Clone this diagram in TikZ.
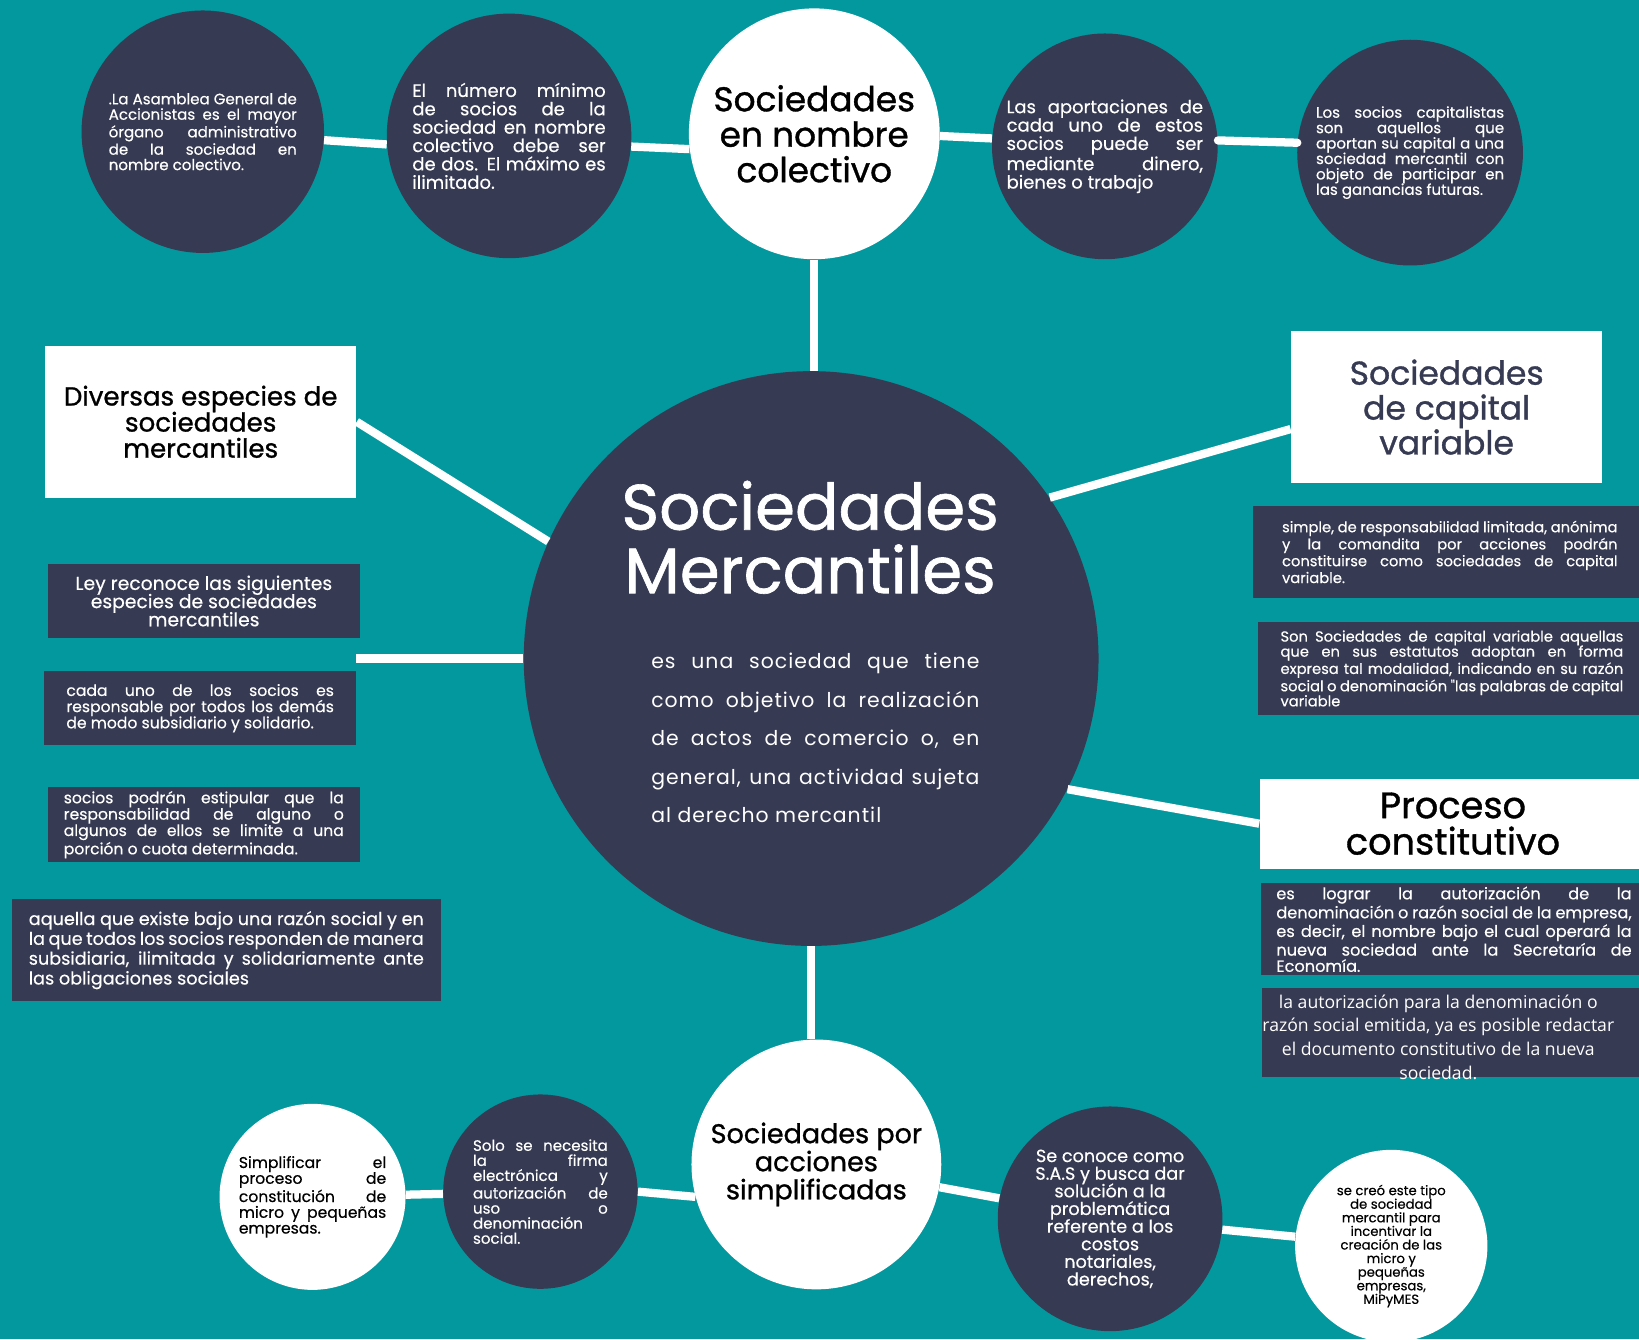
\documentclass[tikz,border=0pt]{standalone}
\usepackage{fontspec}
\setmainfont{Poppins}[FakeBold=0.4]
\newfontfamily\medio[FakeBold=1]{Poppins}
\newfontfamily\espaciada[LetterSpace=5]{Poppins}
\newfontfamily\opensans{Open Sans}
\usetikzlibrary{calc}
\definecolor{fondo}{HTML}{03989E}
\definecolor{marino}{HTML}{363A52}
\hyphenpenalty=10000
\exhyphenpenalty=10000
\tolerance=10000
\lineskiplimit=-\maxdimen

\tikzset{
  burbuja/.style={circle, fill=marino, text=white, inner sep=0pt, minimum size=#1},
  blanca/.style={circle, fill=white, text=black, inner sep=0pt, minimum size=#1},
  caja/.style 2 args={rectangle, fill=marino, text=white, inner sep=0pt, minimum width=#1, minimum height=#2},
  cajablanca/.style 2 args={rectangle, fill=white, text=black, inner sep=0pt, minimum width=#1, minimum height=#2},
  parrafo/.style={align=justify, text width=#1},
  enlace/.style={draw=white, line width=4.5pt}
}

\begin{document}
\begin{tikzpicture}[x=0.02cm, y=-0.02cm]
  % Fondo
  \clip (0,0) rectangle (1568,1281);
  \fill[fondo] (0,0) rectangle (1568,1281);

  % Circulo central
  \node[burbuja=11cm] (mercantil) at (776,630) {};
  \node[text=white, align=center, font=\medio\fontsize{35}{34.6}\selectfont] (titulo) at (775,514) {Sociedades\\Mercantiles};
  \node[parrafo=6.28cm, text=white, font=\espaciada\fontsize{11.1}{21}\selectfont] (definicion) at (780,706)
    {es una sociedad que tiene\linebreak como objetivo la realización\linebreak de actos de comercio o, en\linebreak general, una actividad sujeta\linebreak al derecho mercantil};

  % Fila de arriba
  \node[burbuja=4.64cm, parrafo=3.6cm, font=\fontsize{8.2}{8.4}\selectfont] (asamblea) at (194,126)
    {.La Asamblea General de\linebreak Accionistas es el mayor\linebreak órgano administrativo\linebreak de la sociedad en\linebreak nombre colectivo.};
  \node[burbuja=4.68cm, parrafo=3.7cm, font=\fontsize{9.8}{10}\selectfont] (minimo) at (487,130)
    {El número mínimo\linebreak de socios de la\linebreak sociedad en nombre\linebreak colectivo debe ser\linebreak de dos. El máximo es\linebreak ilimitado.};
  \node[blanca=4.8cm, align=center, font=\medio\fontsize{18.7}{19.3}\selectfont] (colectivo) at (779,128)
    {Sociedades\\en nombre\\colectivo};
  \node[burbuja=4.32cm, parrafo=3.76cm, font=\fontsize{9.8}{10}\selectfont] (aportaciones) at (1057,140)
    {Las aportaciones de\linebreak cada uno de estos\linebreak socios puede ser\linebreak mediante dinero,\linebreak bienes o trabajo};
  \node[burbuja=4.32cm, parrafo=3.6cm, font=\fontsize{8.2}{8.4}\selectfont] (capitalistas) at (1349,146)
    {Los socios capitalistas\linebreak son aquellos que\linebreak aportan su capital a una\linebreak sociedad mercantil con\linebreak objeto de participar en\linebreak las ganancias futuras.};

  % Lado izquierdo
  \node[cajablanca={5.96cm}{2.9cm}, align=center, font=\medio\fontsize{14.2}{14.2}\selectfont] (diversas) at (192,403.5)
    {Diversas especies de\\sociedades\\mercantiles};
  \node[caja={5.96cm}{1.4cm}, align=center, font=\fontsize{10.2}{9.9}\selectfont] (ley) at (195,575)
    {Ley reconoce las siguientes\\especies de sociedades\\mercantiles};
  \node[caja={5.98cm}{1.42cm}, parrafo=5.12cm, font=\fontsize{8.5}{8.8}\selectfont] (cada) at (191.5,677.5)
    {cada uno de los socios es\linebreak responsable por todos los demás\linebreak de modo subsidiario y solidario.};
  \node[caja={5.96cm}{1.44cm}, parrafo=5.36cm, font=\fontsize{8.5}{8.9}\selectfont] (estipular) at (195,789)
    {socios podrán estipular que la\linebreak responsabilidad de alguno o\linebreak algunos de ellos se limite a una\linebreak porción o cuota determinada.};
  \node[caja={8.22cm}{1.96cm}, parrafo=7.56cm, font=\fontsize{9.6}{9.6}\selectfont] (aquella) at (216.5,909)
    {aquella que existe bajo una razón social y en\linebreak la que todos los socios responden de manera\linebreak subsidiaria, ilimitada y solidariamente ante\linebreak las obligaciones sociales};
  \coordinate (ramal) at (341,630);

  % Lado derecho
  \node[cajablanca={5.96cm}{2.9cm}, text=marino, align=center, font=\medio\fontsize{18}{19}\selectfont] (capvar) at (1384,389.5)
    {Sociedades\\de capital\\variable};
  \node[caja={7.52cm}{1.76cm}, parrafo=6.42cm, font=\fontsize{8}{7.9}\selectfont] (simple) at (1387,528)
    {simple, de responsabilidad limitada, anónima\linebreak y la comandita por acciones podrán\linebreak constituirse como sociedades de capital\linebreak variable.};
  \node[caja={7.44cm}{1.78cm}, parrafo=6.56cm, font=\fontsize{8}{8.2}\selectfont] (son) at (1389,639.5)
    {Son Sociedades de capital variable aquellas\linebreak que en sus estatutos adoptan en forma\linebreak expresa tal modalidad, indicando en su razón\linebreak social o denominación \textquotedbl las palabras de capital\linebreak variable};
  \node[cajablanca={7.4cm}{1.72cm}, align=center, font=\medio\fontsize{20}{19.8}\selectfont] (proceso) at (1390,788)
    {Proceso\\constitutivo};
  \node[caja={7.38cm}{1.76cm}, parrafo=6.8cm, font=\fontsize{8.8}{8.8}\selectfont] (lograr) at (1391,889)
    {es lograr la autorización de la\linebreak denominación o razón social de la empresa,\linebreak es decir, el nombre bajo el cual operará la\linebreak nueva sociedad ante la Secretaría de\linebreak Economía.};
  \node[caja={7.22cm}{1.7cm}] (emitida) at (1387.5,987.5) {};
  \node[text=white, align=center, font=\opensans\fontsize{9.6}{12.9}\selectfont] (emitida-texto) at (1376,992)
    {la autorización para la denominación o\\razón social emitida, ya es posible redactar\\el documento constitutivo de la nueva\\sociedad.};

  % Fila de abajo
  \node[blanca=4.78cm, align=center, font=\medio\fontsize{14.7}{15.3}\selectfont] (sas) at (781,1114)
    {Sociedades por\\acciones\\simplificadas};
  \node[burbuja=3.72cm, parrafo=2.58cm, font=\fontsize{8.2}{8.2}\selectfont] (solo) at (517,1140)
    {Solo se necesita\linebreak la firma\linebreak electrónica y\linebreak autorización de\linebreak uso o\linebreak denominación\linebreak social.};
  \node[blanca=3.56cm, parrafo=2.82cm, font=\fontsize{8.5}{8.6}\selectfont] (simplificar) at (299,1145)
    {Simplificar el\linebreak proceso de\linebreak constitución de\linebreak micro y pequeñas\linebreak empresas.};
  \node[burbuja=4.3cm, align=center, font=\fontsize{9.6}{9.6}\selectfont] (conoce) at (1062,1166)
    {Se conoce como\\S.A.S y busca dar\\solución a la\\problemática\\referente a los\\costos\\notariales,\\derechos,};
  \node[blanca=3.68cm, align=center, font=\fontsize{7.2}{7.4}\selectfont] (creo) at (1331,1192)
    {se creó este tipo\\de sociedad\\mercantil para\\incentivar la\\creación de las\\micro y\\pequeñas\\empresas,\\MiPyMES};

  % Enlaces
  \draw[enlace] (asamblea.-4) -- (minimo.184);
  \draw[enlace] (minimo.-5) -- (colectivo.187);
  \draw[enlace] (colectivo.-1) -- (aportaciones.176);
  \draw[enlace, line cap=round] (aportaciones.3) -- (capitalistas.175);
  \draw[enlace] (colectivo.south) -- (colectivo.south |- mercantil.north);
  \draw[enlace] (diversas.east) -- (mercantil.156);
  \draw[enlace] (mercantil.west) -- (ramal);
  \draw[enlace] (capvar.188) -- (mercantil.34);
  \draw[enlace] (mercantil.-27) -- (proceso.west);
  \draw[enlace] (mercantil.south) -- (mercantil.south |- sas.north);
  \draw[enlace] (simplificar) -- (solo);
  \draw[enlace] (solo.east) -- (sas.195);
  \draw[enlace] (sas) -- (conoce);
  \draw[enlace] (conoce) -- (creo);
\end{tikzpicture}
\end{document}
